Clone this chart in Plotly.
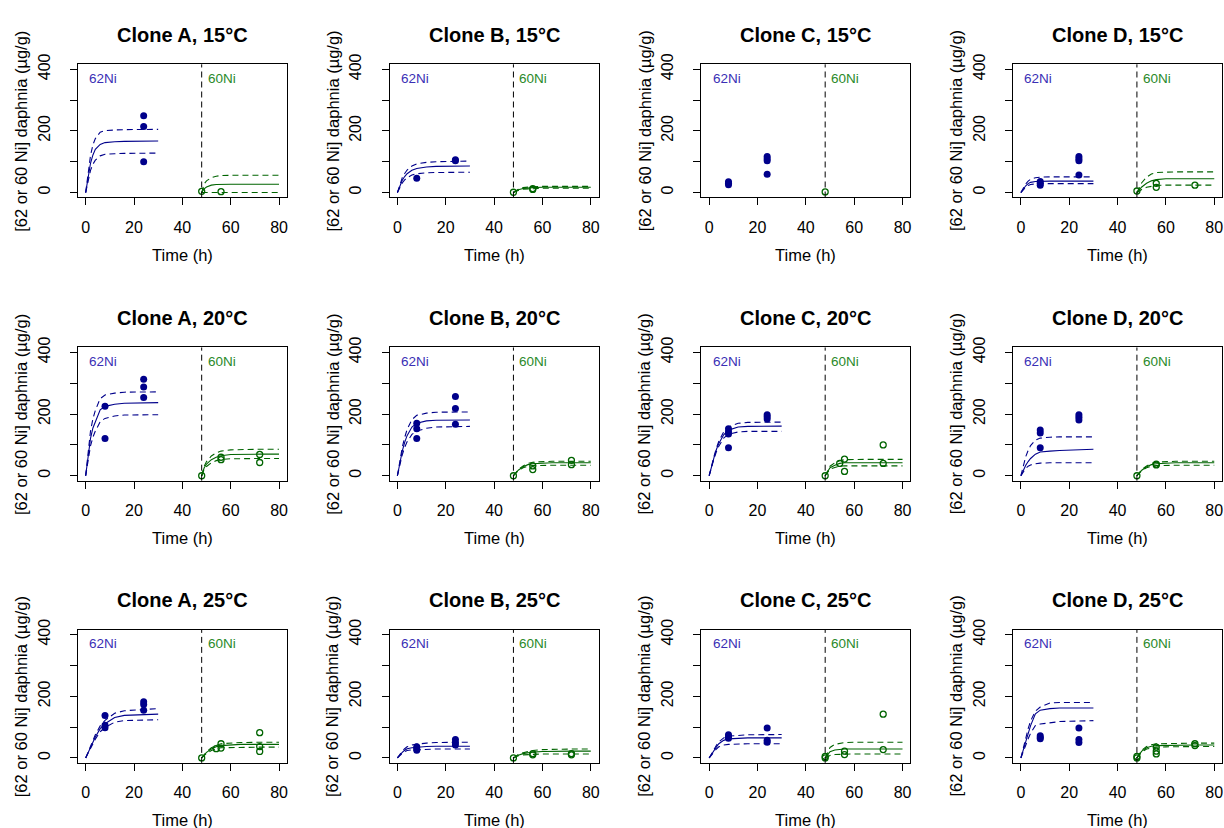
import plotly.graph_objects as go

# ---------------- data ----------------
PANELS = ["A15", "B15", "C15", "D15", "A20", "B20", "C20", "D20", "A25", "B25", "C25", "D25"]
TITLES = ["Clone A, 15°C", "Clone B, 15°C", "Clone C, 15°C", "Clone D, 15°C",
          "Clone A, 20°C", "Clone B, 20°C", "Clone C, 20°C", "Clone D, 20°C",
          "Clone A, 25°C", "Clone B, 25°C", "Clone C, 25°C", "Clone D, 25°C"]

X_TICKS = [0, 20, 40, 60, 80]
Y_TICKS = [0, 100, 200, 300, 400]
Y_TICKTEXT = ["0", "", "200", "", "400"]
SWITCH_TIME = 48

# model time grids
T62 = [0, 1, 2, 3, 4, 6, 8, 12, 16, 30]
T60 = [48, 49, 50, 52, 54, 56, 60, 64, 72, 80]

# observed 62Ni (filled points)
pts62_t = {
    "A15": [24, 24, 24],
    "B15": [8, 24, 24],
    "C15": [8, 8, 8, 24, 24, 24, 24],
    "D15": [8, 8, 8, 24, 24, 24, 24],
    "A20": [8, 8, 24, 24, 24],
    "B20": [8, 8, 8, 24, 24, 24],
    "C20": [8, 8, 8, 8, 24, 24, 24],
    "D20": [8, 8, 8, 24, 24, 24],
    "A25": [8, 8, 8, 24, 24, 24],
    "B25": [8, 8, 8, 24, 24, 24],
    "C25": [8, 8, 8, 24, 24, 24],
    "D25": [8, 8, 8, 24, 24, 24],
}
pts62_y = {
    "A15": [249, 214, 100],
    "B15": [46, 103, 106],
    "C15": [35, 30, 25, 117, 110, 103, 59],
    "D15": [36, 30, 24, 117, 110, 103, 57],
    "A20": [225, 121, 313, 288, 254],
    "B20": [170, 152, 121, 257, 218, 167],
    "C20": [152, 143, 135, 91, 198, 191, 184],
    "D20": [148, 139, 91, 198, 190, 181],
    "A25": [138, 106, 98, 182, 173, 155],
    "B25": [36, 30, 25, 60, 50, 42],
    "C25": [75, 69, 64, 97, 57, 51],
    "D25": [72, 66, 62, 97, 60, 50],
}

# observed 60Ni (open points)
pts60_t = {
    "A15": [48, 56],
    "B15": [48, 56, 56],
    "C15": [48],
    "D15": [48, 56, 56, 72],
    "A20": [48, 56, 56, 72, 72],
    "B20": [48, 56, 56, 72, 72],
    "C20": [48, 54, 56, 56, 72, 72],
    "D20": [48, 56, 56],
    "A25": [48, 54, 56, 56, 72, 72, 72],
    "B25": [48, 56, 56, 72, 72],
    "C25": [48, 48, 56, 56, 72, 72],
    "D25": [48, 48, 56, 56, 56, 72, 72],
}
pts60_y = {
    "A15": [4, 3],
    "B15": [1, 10, 13],
    "C15": [2],
    "D15": [5, 30, 17, 24],
    "A20": [0, 60, 52, 69, 43],
    "B20": [0, 32, 20, 50, 36],
    "C20": [0, 40, 54, 14, 100, 40],
    "D20": [0, 38, 35],
    "A25": [0, 30, 46, 32, 82, 37, 21],
    "B25": [0, 14, 10, 14, 10],
    "C25": [0, 5, 22, 11, 142, 27],
    "D25": [0, 5, 35, 22, 13, 46, 40],
}

# fitted 62Ni uptake (solid) with lower / upper bounds (dashed), on T62
fit62 = {
    "A15": [0, 55, 95, 122, 140, 156, 162, 165, 166, 167],
    "B15": [0, 22, 40, 52, 61, 72, 78, 83, 85, 86],
    "D15": [0, 12, 22, 29, 33, 36, 37, 37, 37, 37],
    "A20": [0, 70, 121, 155, 176, 214, 225, 232, 235, 237],
    "B20": [0, 45, 80, 108, 130, 158, 170, 178, 180, 181],
    "C20": [0, 32, 59, 85, 105, 133, 148, 158, 160, 161],
    "D20": [0, 18, 34, 46, 56, 70, 77, 80, 82, 86],
    "A25": [0, 18, 35, 52, 68, 95, 111, 131, 138, 142],
    "B25": [0, 10, 18, 25, 30, 33, 35, 37, 38, 38],
    "C25": [0, 13, 24, 36, 46, 57, 62, 64, 65, 65],
    "D25": [0, 28, 51, 80, 105, 143, 155, 160, 162, 162],
}
lo62 = {
    "A15": [0, 42, 72, 92, 105, 119, 124, 126, 127, 128],
    "B15": [0, 17, 31, 41, 48, 57, 61, 64, 65, 66],
    "D15": [0, 10, 18, 23, 26, 28, 29, 29, 29, 29],
    "A20": [0, 55, 97, 125, 145, 175, 186, 194, 197, 198],
    "B20": [0, 38, 68, 92, 110, 134, 145, 154, 158, 160],
    "C20": [0, 30, 55, 78, 96, 122, 135, 142, 144, 144],
    "D20": [0, 12, 24, 31, 35, 39, 41, 42, 42, 42],
    "A25": [0, 16, 31, 46, 61, 85, 99, 116, 121, 124],
    "B25": [0, 8, 15, 20, 24, 26, 27, 28, 29, 29],
    "C25": [0, 11, 20, 29, 36, 42, 44, 45, 46, 46],
    "D25": [0, 22, 42, 62, 80, 105, 110, 115, 118, 121],
}
hi62 = {
    "A15": [0, 70, 120, 155, 175, 196, 201, 203, 204, 205],
    "B15": [0, 27, 48, 62, 73, 86, 93, 98, 100, 102],
    "D15": [0, 16, 28, 37, 43, 48, 50, 51, 51, 51],
    "A20": [0, 85, 145, 185, 212, 250, 262, 268, 271, 272],
    "B20": [0, 52, 92, 124, 150, 182, 196, 203, 206, 207],
    "C20": [0, 34, 63, 90, 112, 142, 158, 170, 173, 174],
    "D20": [0, 32, 62, 82, 98, 115, 122, 125, 126, 126],
    "A25": [0, 20, 39, 57, 75, 104, 122, 145, 153, 160],
    "B25": [0, 12, 22, 30, 36, 42, 45, 48, 50, 51],
    "C25": [0, 15, 28, 41, 52, 65, 71, 74, 75, 76],
    "D25": [0, 35, 65, 95, 120, 152, 165, 178, 180, 180],
}

# fitted 60Ni (solid) with lower / upper bounds (dashed), on T60
fit60 = {
    "A15": [0, 12, 18, 24, 26, 27, 27, 27, 27, 27],
    "B15": [0, 5, 9, 13, 15, 16, 17, 17, 17, 17],
    "D15": [0, 10, 18, 30, 38, 42, 45, 45, 45, 45],
    "A20": [0, 25, 38, 52, 60, 65, 69, 70, 70, 70],
    "B20": [0, 10, 18, 29, 36, 39, 41, 42, 42, 42],
    "C20": [0, 14, 26, 34, 40, 42, 42, 42, 42, 42],
    "D20": [0, 10, 18, 29, 36, 39, 41, 42, 42, 42],
    "A25": [0, 9, 18, 29, 36, 40, 43, 44, 44, 44],
    "B25": [0, 5, 9, 14, 17, 19, 21, 22, 22, 22],
    "C25": [0, 12, 20, 26, 28, 29, 29, 29, 29, 29],
    "D25": [0, 12, 22, 33, 38, 40, 41, 42, 42, 42],
}
lo60 = {
    "A15": [0, 0, 0, 0, 0, 0, 0, 0, 0, 0],
    "B15": [0, 4, 7, 11, 12, 13, 14, 14, 14, 14],
    "D15": [0, 5, 10, 17, 21, 23, 24, 24, 24, 24],
    "A20": [0, 20, 30, 42, 49, 53, 55, 56, 56, 56],
    "B20": [0, 9, 16, 26, 31, 33, 34, 34, 34, 34],
    "C20": [0, 11, 21, 27, 31, 32, 32, 32, 32, 32],
    "D20": [0, 9, 16, 26, 31, 33, 34, 34, 34, 34],
    "A25": [0, 8, 15, 24, 30, 33, 34, 35, 35, 35],
    "B25": [0, 4, 7, 10, 11, 12, 13, 13, 13, 13],
    "C25": [0, 5, 8, 11, 12, 13, 13, 13, 13, 13],
    "D25": [0, 10, 19, 29, 33, 35, 36, 37, 37, 37],
}
hi60 = {
    "A15": [0, 28, 38, 48, 53, 55, 56, 56, 56, 56],
    "B15": [0, 6, 11, 16, 18, 19, 20, 20, 20, 20],
    "D15": [0, 18, 32, 50, 60, 65, 67, 67, 67, 67],
    "A20": [0, 30, 46, 64, 74, 80, 84, 85, 86, 86],
    "B20": [0, 11, 20, 32, 40, 44, 46, 47, 47, 47],
    "C20": [0, 17, 31, 42, 49, 52, 53, 53, 53, 53],
    "D20": [0, 11, 20, 32, 40, 44, 46, 47, 47, 47],
    "A25": [0, 10, 20, 33, 41, 46, 49, 50, 51, 51],
    "B25": [0, 6, 11, 17, 21, 24, 27, 28, 29, 29],
    "C25": [0, 20, 34, 44, 48, 50, 51, 51, 51, 51],
    "D25": [0, 14, 25, 37, 43, 46, 47, 48, 48, 48],
}

# ---------------- styling / layout ----------------
W, H = 1224, 828
COL_LEFT = [78, 390, 702, 1014]
ROW_TOP = [54, 341, 627]
BOX_W, BOX_H = 209, 135
BLUE = "#00008B"
GREEN = "#006400"
BLUE_TXT = "#3a2fb5"
GREEN_TXT = "#2a8a2a"
FONT = "Arial, Liberation Sans, sans-serif"
DASH = "6px,4px"

fig = go.Figure()
layout = dict(width=W, height=H, margin=dict(l=0, r=0, t=0, b=0),
              paper_bgcolor="white", plot_bgcolor="white", showlegend=False,
              font=dict(family=FONT, color="black"))
annotations = []
shapes = []

for i, key in enumerate(PANELS):
    r, c = divmod(i, 4)
    n = "" if i == 0 else str(i + 1)
    xa, ya = "x" + n, "y" + n
    left, top = COL_LEFT[c], ROW_TOP[r]
    right, bottom = left + BOX_W, top + BOX_H
    axis_common = dict(showline=True, linecolor="black", linewidth=1, mirror=True,
                       ticks="outside", ticklen=7, tickwidth=1, tickcolor="black",
                       showgrid=False, zeroline=False, fixedrange=True,
                       tickfont=dict(family=FONT, size=16, color="black"))
    layout["xaxis" + n] = dict(axis_common, domain=[left / W, right / W],
                               range=[-3.2, 83.2], tickvals=X_TICKS,
                               anchor=ya, ticklabelstandoff=8)
    layout["yaxis" + n] = dict(axis_common, domain=[1 - bottom / H, 1 - top / H],
                               range=[-16, 416], tickvals=Y_TICKS, ticktext=Y_TICKTEXT,
                               tickangle=-90, anchor=xa, ticklabelstandoff=14)

    # curves
    if key in fit62:
        for vals, dash in ((fit62[key], "solid"), (lo62[key], DASH), (hi62[key], DASH)):
            fig.add_trace(go.Scatter(x=T62, y=vals, mode="lines", xaxis=xa, yaxis=ya,
                                     line=dict(color=BLUE, width=1.1, dash=dash),
                                     hoverinfo="skip"))
        for vals, dash in ((fit60[key], "solid"), (lo60[key], DASH), (hi60[key], DASH)):
            fig.add_trace(go.Scatter(x=T60, y=vals, mode="lines", xaxis=xa, yaxis=ya,
                                     line=dict(color=GREEN, width=1.1, dash=dash),
                                     hoverinfo="skip"))
    # points
    fig.add_trace(go.Scatter(x=pts62_t[key], y=pts62_y[key], mode="markers",
                             xaxis=xa, yaxis=ya,
                             marker=dict(symbol="circle", size=7, color=BLUE,
                                         line=dict(width=0))))
    fig.add_trace(go.Scatter(x=pts60_t[key], y=pts60_y[key], mode="markers",
                             xaxis=xa, yaxis=ya,
                             marker=dict(symbol="circle-open", size=6, color=GREEN,
                                         line=dict(width=1.3, color=GREEN))))

    # vertical separator
    shapes.append(dict(type="line", xref=xa, yref=ya + " domain",
                       x0=SWITCH_TIME, x1=SWITCH_TIME, y0=0, y1=1,
                       line=dict(color="black", width=1, dash=DASH)))

    cx = (left + right) / 2 / W
    # title
    annotations.append(dict(text="<b>" + TITLES[i] + "</b>", xref="paper", yref="paper",
                            x=cx, y=1 - (top - 30) / H, xanchor="center", yanchor="middle",
                            showarrow=False, font=dict(family=FONT, size=20, color="black")))
    # x label
    annotations.append(dict(text="Time (h)", xref="paper", yref="paper",
                            x=cx, y=1 - (bottom + 58) / H, xanchor="center", yanchor="middle",
                            showarrow=False, font=dict(family=FONT, size=16.5, color="black")))
    # y label
    annotations.append(dict(text="[62 or 60 Ni] daphnia (µg/g)", xref="paper", yref="paper",
                            x=(left - 57) / W, y=1 - (top + bottom) / 2 / H,
                            xanchor="center", yanchor="middle", textangle=-90,
                            showarrow=False, font=dict(family=FONT, size=16.5, color="black")))
    # isotope labels
    annotations.append(dict(text="62Ni", xref=xa, yref=ya, x=0.6, y=371,
                            xanchor="left", yanchor="middle", showarrow=False,
                            font=dict(family=FONT, size=13.5, color=BLUE_TXT)))
    annotations.append(dict(text="60Ni", xref=xa, yref=ya, x=49.6, y=371,
                            xanchor="left", yanchor="middle", showarrow=False,
                            font=dict(family=FONT, size=13.5, color=GREEN_TXT)))

layout["annotations"] = annotations
layout["shapes"] = shapes
fig.update_layout(**layout)
fig.write_html("out.html", config={"displayModeBar": False},
               post_script="document.body.style.margin='0px';"
                           "document.body.style.padding='0px';"
                           "document.body.style.overflow='hidden';")
